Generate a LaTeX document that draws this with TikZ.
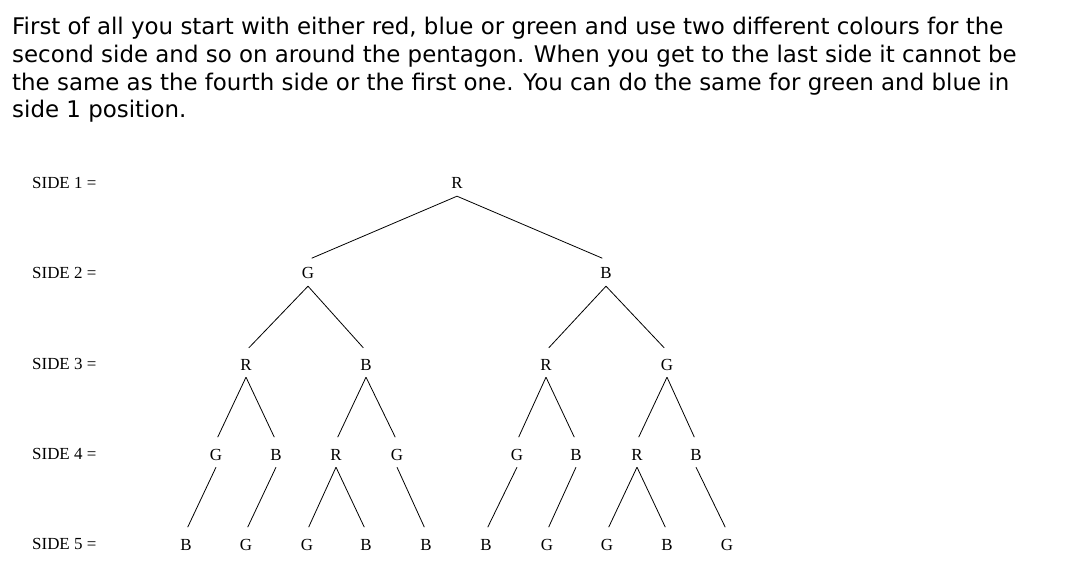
\documentclass[tikz,border=0pt]{standalone}
\usepackage{fontspec}
\setmainfont{Liberation Serif}
\newfontfamily\introfont{DejaVu Sans}
\begin{document}
\begin{tikzpicture}[x=1bp,y=-1bp,
  letter/.style={inner sep=0pt, minimum height=26bp, text height=12bp, text depth=0pt, font=\fontsize{17}{17}\selectfont},
  side/.style={anchor=west, inner sep=0pt, font=\fontsize{17}{17}\selectfont},
  branch/.style={line width=0.8bp, shorten >=4bp}]
  \useasboundingbox (0,0) rectangle (1071,576);

  \node[anchor=base west, inner sep=0pt, align=left, font=\introfont\fontsize{23}{28}\selectfont] (intro) at (12,118)
    {First of all you start with either red, blue or green and use two different colours for the\\
     second side and so on around the pentagon. When you get to the last side it cannot be\\
     the same as the fourth side or the first one. You can do the same for green and blue in\\
     side 1 position.};

  % row labels
  \node[side] (side1) at (32,183) {SIDE 1 =};
  \node[side] (side2) at (32,273) {SIDE 2 =};
  \node[side] (side3) at (32,364) {SIDE 3 =};
  \node[side] (side4) at (32,454) {SIDE 4 =};
  \node[side] (side5) at (32,544) {SIDE 5 =};

  % side 1 and 2
  \node[letter] (t) at (457,183) {R};
  \node[letter] (tg) at (308,273) {G};
  \node[letter] (tb) at (606,273) {B};

  % side 3
  \node[letter] (tgr) at (246,364) {R};
  \node[letter] (tgb) at (366,364) {B};
  \node[letter] (tbr) at (546,364) {R};
  \node[letter] (tbg) at (667,364) {G};

  % side 4
  \node[letter] (tgrg) at (216,454) {G};
  \node[letter] (tgrb) at (276,454) {B};
  \node[letter] (tgbr) at (336,454) {R};
  \node[letter] (tgbg) at (397,454) {G};
  \node[letter] (tbrg) at (517,454) {G};
  \node[letter] (tbrb) at (576,454) {B};
  \node[letter] (tbgr) at (637,454) {R};
  \node[letter] (tbgb) at (696,454) {B};

  % side 5
  \node[letter] (tgrgb) at (186,544) {B};
  \node[letter] (tgrbg) at (246,544) {G};
  \node[letter] (tgbrg) at (307,544) {G};
  \node[letter] (tgbrb) at (366,544) {B};
  \node[letter] (tgbgb) at (426,544) {B};
  \node[letter] (tbrgb) at (486,544) {B};
  \node[letter] (tbrbg) at (547,544) {G};
  \node[letter] (tbgrg) at (607,544) {G};
  \node[letter] (tbgrb) at (667,544) {B};
  \node[letter] (tbgbg) at (727,544) {G};

  \draw[branch] (t.south) -- (tg.north);
  \draw[branch] (t.south) -- (tb.north);

  \draw[branch] (tg.south) -- (tgr.north);
  \draw[branch] (tg.south) -- (tgb.north);
  \draw[branch] (tb.south) -- (tbr.north);
  \draw[branch] (tb.south) -- (tbg.north);

  \draw[branch] (tgr.south) -- (tgrg.north);
  \draw[branch] (tgr.south) -- (tgrb.north);
  \draw[branch] (tgb.south) -- (tgbr.north);
  \draw[branch] (tgb.south) -- (tgbg.north);
  \draw[branch] (tbr.south) -- (tbrg.north);
  \draw[branch] (tbr.south) -- (tbrb.north);
  \draw[branch] (tbg.south) -- (tbgr.north);
  \draw[branch] (tbg.south) -- (tbgb.north);

  \draw[branch] (tgrg.south) -- (tgrgb.north);
  \draw[branch] (tgrb.south) -- (tgrbg.north);
  \draw[branch] (tgbr.south) -- (tgbrg.north);
  \draw[branch] (tgbr.south) -- (tgbrb.north);
  \draw[branch] (tgbg.south) -- (tgbgb.north);
  \draw[branch] (tbrg.south) -- (tbrgb.north);
  \draw[branch] (tbrb.south) -- (tbrbg.north);
  \draw[branch] (tbgr.south) -- (tbgrg.north);
  \draw[branch] (tbgr.south) -- (tbgrb.north);
  \draw[branch] (tbgb.south) -- (tbgbg.north);
\end{tikzpicture}
\end{document}
